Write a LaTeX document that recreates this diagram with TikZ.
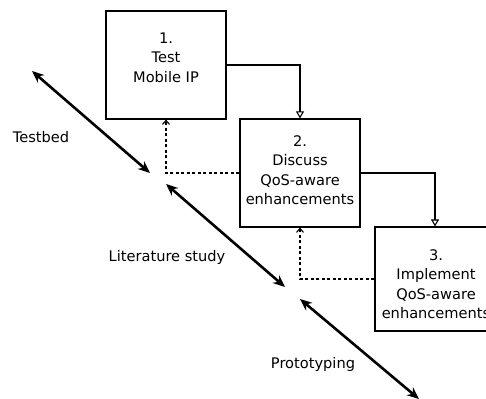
\documentclass[tikz,border=0pt]{standalone}
\usepackage{fontspec}
\setmainfont{DejaVu Sans}
\usetikzlibrary{arrows.meta}
\begin{document}
\begin{tikzpicture}[x=1pt,y=-1pt,
  phase/.style={draw,line width=1.2pt,minimum width=120pt,inner sep=0pt},
  caption/.style={align=center,inner sep=0pt,font=\fontsize{14.6}{19.5}\selectfont},
  tag/.style={inner sep=0pt,font=\fontsize{14.6}{17}\selectfont},
  flow/.style={line width=1.1pt,-{Triangle[open,length=7pt,width=8pt]}},
  feedback/.style={line width=1.1pt,dash pattern=on 3pt off 2.5pt,-{Straight Barb[length=4pt,width=7pt]}},
  span/.style={line width=2.6pt,{Stealth[length=12pt,width=10pt]}-{Stealth[length=12pt,width=10pt]}}]
  \useasboundingbox (0,0) rectangle (486,398);
  \clip (0,0) rectangle (486,398);

  % phase boxes
  \node[phase,minimum height=108pt] (b1) at (166,65) {};
  \node[phase,minimum height=108pt] (b2) at (300,173) {};
  \node[phase,minimum height=104pt] (b3) at (435,279) {};

  \node[caption] (t1) at (166,57.5) {1.\\Test\\Mobile IP};
  \node[caption] (t2) at (300,170) {2.\\Discuss\\QoS-aware\\enhancements};
  \node[caption] (t3) at (436,284) {3.\\Implement\\QoS-aware\\enhancements};

  % forward flow
  \draw[flow] (b1.east) -| (b2.north);
  \draw[flow] (b2.east) -| (b3.north);

  % feedback
  \draw[feedback] (b2.west) -| (b1.south);
  \draw[feedback] (b3.west) -| (b2.south);

  % stage spans
  \coordinate (s1a) at (32,71);
  \coordinate (s1b) at (150,173);
  \coordinate (s2a) at (166,184);
  \coordinate (s2b) at (285,287);
  \coordinate (s3a) at (300,299);
  \coordinate (s3b) at (419,399);
  \draw[span] (s1a) -- (s1b);
  \draw[span] (s2a) -- (s2b);
  \draw[span] (s3a) -- (s3b);

  \node[tag] (l1) at (41,137) {Testbed};
  \node[tag] (l2) at (167,257) {Literature study};
  \node[tag] (l3) at (313,364) {Prototyping};
\end{tikzpicture}
\end{document}
